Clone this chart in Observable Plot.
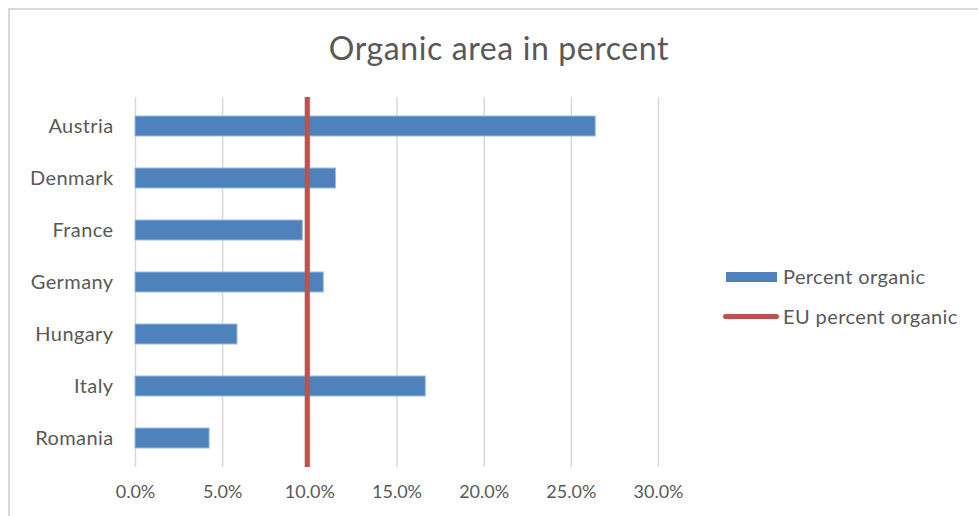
<!DOCTYPE html>
<html>
<head>
<meta charset="utf-8">
<script src="https://cdn.jsdelivr.net/npm/d3@7"></script>
<script src="https://cdn.jsdelivr.net/npm/@observablehq/plot@0.6"></script>
<style>
  html, body { margin: 0; padding: 0; background: #fff; }
  #wrap { position: relative; width: 978px; height: 516px; overflow: hidden; font-family: Lato, "Open Sans", sans-serif; color: #595959; }
  #frame { position: absolute; left: 8px; top: 8px; width: 1000px; height: 600px; border: 2px solid #d9d9d9; box-sizing: border-box; }
  #title { position: absolute; left: 9px; width: 980px; top: 28px; text-align: center; font-size: 32px; letter-spacing: 0.6px; color: #595959; }
  #chart { position: absolute; left: 0; top: 0; }
  .leg { position: absolute; font-size: 20px; letter-spacing: 0.4px; color: #595959; line-height: 1; }
  .sw { position: absolute; }
  .yax text { letter-spacing: 0.4px; }
</style>
</head>
<body>
<div id="wrap">
  <div id="frame"></div>
  <div id="chart"></div>
  <div id="title">Organic area in percent</div>
  <div id="legend"></div>
</div>
<script>
const countries = ["Austria", "Denmark", "France", "Germany", "Hungary", "Italy", "Romania"];
const percentOrganic = [0.264, 0.115, 0.096, 0.108, 0.0585, 0.1665, 0.0425];
const euPercent = 0.0985;
const xTicks = [0, 0.05, 0.10, 0.15, 0.20, 0.25, 0.30];
const seriesNames = ["Percent organic", "EU percent organic"];
const seriesColors = ["#4f81bd", "#c0504d"];

const data = countries.map((c, i) => ({country: c, value: percentOrganic[i]}));

const chart = Plot.plot({
  width: 978,
  height: 516,
  marginLeft: 135,
  marginRight: 320,
  marginTop: 97,
  marginBottom: 49,
  style: {fontFamily: "Lato, 'Open Sans', sans-serif", fontSize: "18px", color: "#595959", background: "transparent"},
  x: {domain: [0, 0.30], ticks: xTicks, tickFormat: d3.format(".1%"), label: null},
  y: {domain: countries, paddingInner: 0.62, paddingOuter: 0.31, label: null},
  marks: [
    Plot.gridX(xTicks, {stroke: "#d9d9d9", strokeOpacity: 1, strokeWidth: 1.5}),
    Plot.axisX(xTicks, {tickSize: 0, tickPadding: 18, tickFormat: d3.format(".1%"), fill: "#595959", label: null, fontSize: 18}),
    Plot.axisY({tickSize: 0, tickPadding: 22, fill: "#595959", label: null, fontSize: 20, className: "yax"}),
    Plot.barX(data, {x: "value", y: "country", fill: seriesColors[0], stroke: "#9dbbe0", strokeWidth: 1}),
    Plot.ruleX([euPercent], {stroke: seriesColors[1], strokeWidth: 5})
  ]
});
document.getElementById("chart").appendChild(chart);

const legend = document.getElementById("legend");
legend.innerHTML = `
  <div class="sw" style="left:726px;top:272px;width:51px;height:10px;background:${seriesColors[0]}"></div>
  <div class="leg" style="left:783px;top:266px">${seriesNames[0]}</div>
  <div class="sw" style="left:723px;top:314px;width:56px;height:5px;border-radius:3px;background:${seriesColors[1]}"></div>
  <div class="leg" style="left:783px;top:306px">${seriesNames[1]}</div>
`;
</script>
</body>
</html>
